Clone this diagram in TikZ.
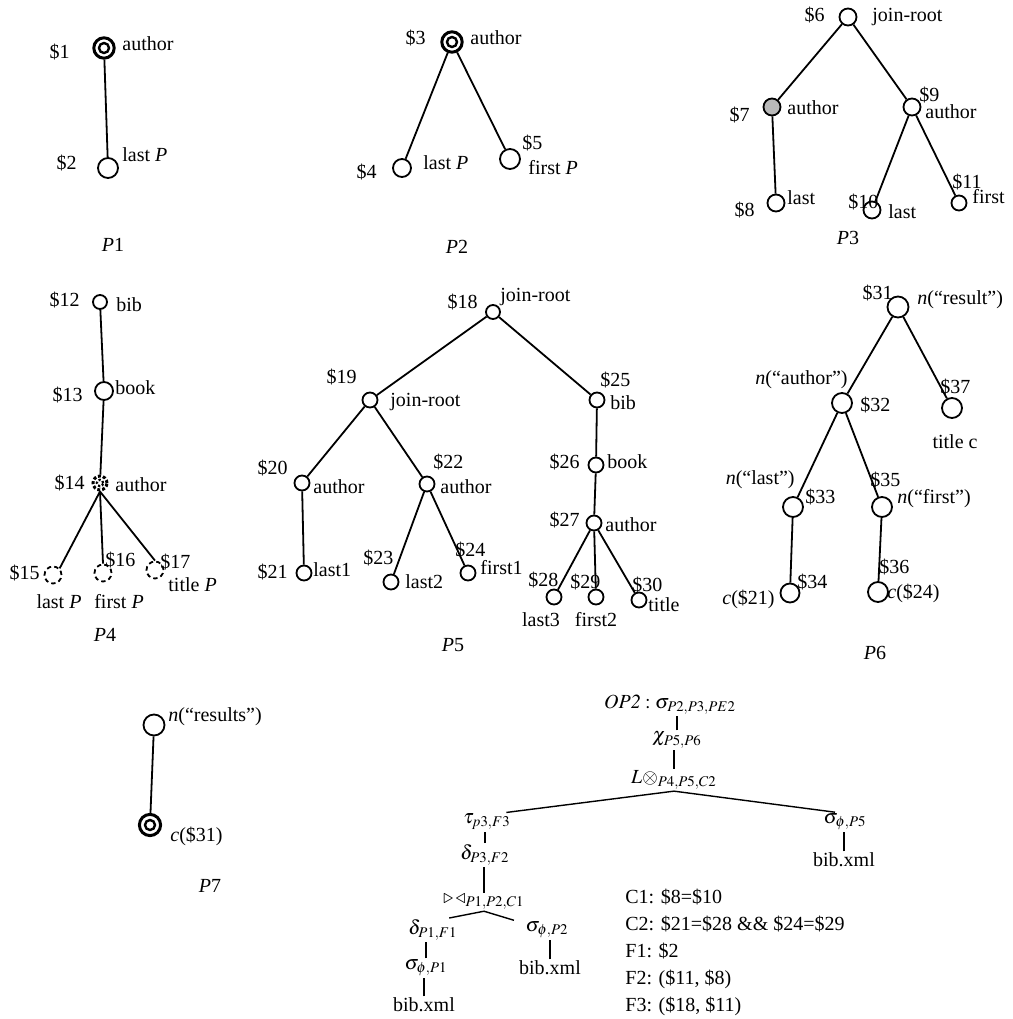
\documentclass[tikz,border=0pt]{standalone}
\usepackage{mathptmx}
\usepackage{amsmath}
\usepackage{fontspec}
\setmainfont{Liberation Serif}
\usepackage{tikz}
\usetikzlibrary{calc}

\begin{document}
\begin{tikzpicture}[
    x=0.5pt, y=-0.5pt,
    font=\fontsize{10}{12}\selectfont,
    every node/.style={inner sep=0pt},
    lab/.style={text height=7pt, text depth=1pt},
    vtx/.style={circle, draw, line width=0.9pt, minimum size=#1},
    vtx/.default=8.5pt,
    root/.style={circle, draw, line width=1.5pt, minimum size=10.2pt,
        path picture={\draw[line width=1.2pt] (path picture bounding box.center) circle (2.5pt);}},
    fuzzy/.style={circle, draw, densely dotted, line width=1.5pt, minimum size=7pt,
        path picture={\draw[densely dotted, line width=1.1pt] (path picture bounding box.center) circle (1.6pt);}},
    opt/.style={circle, draw, dash pattern=on 2.2pt off 1.6pt, line width=0.9pt, minimum size=8.5pt},
    branch/.style={line width=0.9pt},
    link/.style={line width=0.7pt},
    opn/.style={inner sep=0.6pt}
]
    \useasboundingbox (0,0) rectangle (1013,1019);

    % P1
    \node[root] (v1) at (104,48) {};
    \node[vtx=10pt] (v2) at (108,168) {};
    \draw[branch] (v1) -- (v2);
    \node[lab, anchor=east] (l1) at (70,52) {\$1};
    \node[lab, anchor=west] (t1) at (122,44) {author};
    \node[lab, anchor=east] (l2) at (77,163) {\$2};
    \node[lab, anchor=west] (t2) at (122,155) {last \textit{P}};
    \node[lab] (p1) at (113,245) {\textit{P}1};

    % P2
    \node[root] (v3) at (452,42) {};
    \node[vtx=9pt] (v4) at (402,168) {};
    \node[vtx=10pt] (v5) at (510,159) {};
    \draw[branch] (v4) -- (v3) -- (v5);
    \node[lab, anchor=east] (l3) at (426,38) {\$3};
    \node[lab, anchor=west] (t3) at (470,38) {author};
    \node[lab, anchor=east] (l4) at (377,172) {\$4};
    \node[lab, anchor=west] (t4) at (423,163) {last \textit{P}};
    \node[lab, anchor=west] (l5) at (522,143) {\$5};
    \node[lab, anchor=west] (t5) at (528,168) {first \textit{P}};
    \node[lab] (p2) at (457,247) {\textit{P}2};

    % P3
    \node[vtx] (v6) at (848,17) {};
    \node[vtx, fill=gray!55] (v7) at (772,107) {};
    \node[vtx] (v8) at (776,203) {};
    \node[vtx] (v9) at (912,107) {};
    \node[vtx] (v10) at (872,210) {};
    \node[vtx=7.5pt] (v11) at (959,203) {};
    \draw[branch] (v8) -- (v7) -- (v6) -- (v9) -- (v10);
    \draw[branch] (v9) -- (v11);
    \node[lab, anchor=east] (l6) at (825,15) {\$6};
    \node[lab, anchor=west] (t6) at (872,15) {join-root};
    \node[lab, anchor=east] (l7) at (750,115) {\$7};
    \node[lab, anchor=west] (t7) at (787,108) {author};
    \node[lab, anchor=east] (l8) at (755,210) {\$8};
    \node[lab, anchor=west] (t8) at (787,198) {last};
    \node[lab, anchor=west] (l9) at (919,95) {\$9};
    \node[lab, anchor=west] (t9) at (925,112) {author};
    \node[lab, anchor=west] (l10) at (848,202) {\$10};
    \node[lab, anchor=west] (t10) at (888,212) {last};
    \node[lab, anchor=west] (l11) at (952,182) {\$11};
    \node[lab, anchor=west] (t11) at (972,197) {first};
    \node[lab] (p3) at (848,238) {\textit{P}3};

    % P4
    \node[vtx=7pt] (v12) at (100,302) {};
    \node[vtx=9pt] (v13) at (104,391) {};
    \node[fuzzy] (v14) at (100,483) {};
    \node[opt] (v15) at (53,575) {};
    \node[opt] (v16) at (103,573) {};
    \node[opt] (v17) at (155,570) {};
    \draw[branch] (v12) -- (v13) -- (v14);
    \draw[branch] (v14.south) -- (v15.north east);
    \draw[branch] (v14.south) -- (v16.north);
    \draw[branch] (v14.south) -- (v17.north);
    \node[lab, anchor=east] (l12) at (80,300) {\$12};
    \node[lab, anchor=west] (t12) at (116,305) {bib};
    \node[lab, anchor=east] (l13) at (83,395) {\$13};
    \node[lab, anchor=west] (t13) at (115,388) {book};
    \node[lab, anchor=east] (l14) at (85,483) {\$14};
    \node[lab, anchor=west] (t14) at (115,485) {author};
    \node[lab, anchor=east] (l15) at (40,573) {\$15};
    \node[lab] (t15) at (59,602) {last \textit{P}};
    \node[lab, anchor=west] (l16) at (105,560) {\$16};
    \node[lab] (t16) at (119,602) {first \textit{P}};
    \node[lab, anchor=west] (l17) at (160,562) {\$17};
    \node[lab, anchor=west] (t17) at (168,585) {title \textit{P}};
    \node[lab] (p4) at (105,635) {\textit{P}4};

    % P5
    \node[vtx=7pt] (v18) at (493,312) {};
    \node[vtx=7.5pt] (v19) at (370,400) {};
    \node[vtx=7.5pt] (v20) at (302,483) {};
    \node[vtx=7.5pt] (v21) at (304,573) {};
    \node[vtx=7.5pt] (v22) at (427,484) {};
    \node[vtx=7.5pt] (v23) at (391,582) {};
    \node[vtx=7.5pt] (v24) at (468,573) {};
    \node[vtx=7.5pt] (v25) at (597,400) {};
    \node[vtx=7.5pt] (v26) at (596,465) {};
    \node[vtx=7.5pt] (v27) at (594,523) {};
    \node[vtx=7.5pt] (v28) at (554,597) {};
    \node[vtx=7.5pt] (v29) at (596,597) {};
    \node[vtx=7.5pt] (v30) at (639,600) {};
    \draw[branch] (v19) -- (v18) -- (v25) -- (v26) -- (v27);
    \draw[branch] (v21) -- (v20) -- (v19) -- (v22) -- (v23);
    \draw[branch] (v22) -- (v24);
    \draw[branch] (v27) -- (v28);
    \draw[branch] (v27) -- (v29);
    \draw[branch] (v27) -- (v30);
    \node[lab, anchor=east] (l18) at (478,302) {\$18};
    \node[lab, anchor=west] (t18) at (500,295) {join-root};
    \node[lab, anchor=east] (l19) at (357,377) {\$19};
    \node[lab, anchor=west] (t19) at (390,400) {join-root};
    \node[lab, anchor=east] (l20) at (288,468) {\$20};
    \node[lab, anchor=west] (t20) at (313,487) {author};
    \node[lab, anchor=east] (l21) at (288,572) {\$21};
    \node[lab, anchor=west] (t21) at (313,570) {last1};
    \node[lab, anchor=west] (l22) at (433,462) {\$22};
    \node[lab, anchor=west] (t22) at (440,487) {author};
    \node[lab, anchor=west] (l23) at (363,558) {\$23};
    \node[lab, anchor=west] (t23) at (405,582) {last2};
    \node[lab, anchor=west] (l24) at (455,550) {\$24};
    \node[lab, anchor=west] (t24) at (480,568) {first1};
    \node[lab, anchor=west] (l25) at (600,380) {\$25};
    \node[lab, anchor=west] (t25) at (610,403) {bib};
    \node[lab, anchor=east] (l26) at (580,462) {\$26};
    \node[lab, anchor=west] (t26) at (607,462) {book};
    \node[lab, anchor=east] (l27) at (580,520) {\$27};
    \node[lab, anchor=west] (t27) at (605,525) {author};
    \node[lab, anchor=west] (l28) at (528,580) {\$28};
    \node[lab] (t28) at (541,620) {last3};
    \node[lab, anchor=west] (l29) at (570,582) {\$29};
    \node[lab] (t29) at (596,620) {first2};
    \node[lab, anchor=west] (l30) at (632,585) {\$30};
    \node[lab, anchor=west] (t30) at (648,605) {title};
    \node[lab] (p5) at (453,645) {\textit{P}5};

    % P6
    \node[vtx=10.5pt] (v31) at (898,307) {};
    \node[vtx=10pt] (v32) at (842,403) {};
    \node[vtx=10pt] (v33) at (793,507) {};
    \node[vtx=9.5pt] (v34) at (790,593) {};
    \node[vtx=10pt] (v35) at (882,507) {};
    \node[vtx=10pt] (v36) at (878,592) {};
    \node[vtx=10pt] (v37) at (952,408) {};
    \draw[branch] (v32) -- (v31) -- (v37);
    \draw[branch] (v34) -- (v33) -- (v32) -- (v35) -- (v36);
    \node[lab, anchor=east] (l31) at (893,293) {\$31};
    \node[lab, anchor=west] (t31) at (917,298) {\textit{n}(``result'')};
    \node[lab, anchor=east] (t32) at (848,378) {\textit{n}(``author'')};
    \node[lab, anchor=west] (l32) at (860,405) {\$32};
    \node[lab, anchor=west] (l37) at (940,387) {\$37};
    \node[lab] (t37) at (955,442) {title c};
    \node[lab, anchor=east] (t33) at (795,478) {\textit{n}(``last'')};
    \node[lab, anchor=west] (l33) at (805,497) {\$33};
    \node[lab, anchor=west] (l35) at (870,480) {\$35};
    \node[lab, anchor=west] (t35) at (897,497) {\textit{n}(``first'')};
    \node[lab, anchor=east] (t34) at (775,598) {\textit{c}(\$21)};
    \node[lab, anchor=west] (l34) at (797,582) {\$34};
    \node[lab, anchor=west] (l36) at (879,567) {\$36};
    \node[lab, anchor=west] (t36) at (887,592) {\textit{c}(\$24)};
    \node[lab] (p6) at (875,653) {\textit{P}6};

    % P7
    \node[vtx=10.5pt] (w1) at (154,725) {};
    \node[root, minimum size=10.6pt] (w2) at (150,825) {};
    \draw[branch] (w1) -- (w2);
    \node[lab, anchor=west] (u1) at (168,715) {\textit{n}(``results'')};
    \node[lab, anchor=west] (u2) at (170,835) {\textit{c}(\$31)};
    \node[lab] (p7) at (210,886) {\textit{P}7};

    % 操作树
    \node[opn] (op) at (670,705) {$\mathit{OP2}:\sigma_{P2,P3,PE2}$};
    \node[opn] (chi) at (677,740) {$\chi_{P5,P6}$};
    \node[opn] (lj) at (674,780) {$L\otimes_{P4,P5,C2}$};
    \node[opn] (tau) at (487,822) {$\tau_{p3,F3}$};
    \node[opn] (sg5) at (845,822) {$\sigma_{\phi,P5}$};
    \node[opn] (xml3) at (844,860) {bib.xml};
    \node[opn] (dl2) at (485,855) {$\delta_{P3,F2}$};
    \node[opn] (bt) at (484,902) {$\triangleright\,\triangleleft_{P1,P2,C1}$};
    \node[opn] (dl1) at (433,930) {$\delta_{P1,F1}$};
    \node[opn] (sg2) at (547,930) {$\sigma_{\phi,P2}$};
    \node[opn] (sg1) at (426,968) {$\sigma_{\phi,P1}$};
    \node[opn] (xml1) at (424,1005) {bib.xml};
    \node[opn] (xml2) at (550,968) {bib.xml};
    \draw[link] (chi.north) -- (chi.north |- op.south);
    \draw[link] (lj.north) -- (lj.north |- chi.south);
    \draw[link] ([xshift=-3pt]tau.north east) -- (lj.south) -- ([xshift=-5pt]sg5.north);
    \draw[link] (xml3.north) -- (xml3.north |- sg5.south);
    \draw[link] (dl2.north) -- (dl2.north |- tau.south);
    \draw[link] (bt.north) -- (bt.north |- dl2.south);
    \draw[link] ([xshift=-5pt]dl1.north east) -- (bt.south) -- ([xshift=-5pt]sg2.north west);
    \draw[link] (sg1.north) -- (sg1.north |- dl1.south);
    \draw[link] (xml1.north) -- (xml1.north |- sg1.south);
    \draw[link] (xml2.north) -- (xml2.north |- sg2.south);

    % 条件说明
    \node[lab, anchor=west] (c1) at (625,897) {C1: \$8=\$10};
    \node[lab, anchor=west] (c2) at (625,924) {C2: \$21=\$28 \&\& \$24=\$29};
    \node[lab, anchor=west] (f1) at (625,951) {F1: \$2};
    \node[lab, anchor=west] (f2) at (625,978) {F2: (\$11, \$8)};
    \node[lab, anchor=west] (f3) at (625,1005) {F3: (\$18, \$11)};
\end{tikzpicture}
\end{document}
